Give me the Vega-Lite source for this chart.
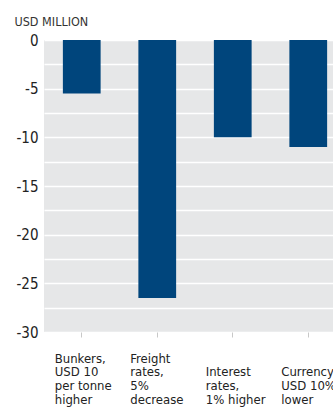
{
  "$schema": "https://vega.github.io/schema/vega-lite/v6.json",
  "autosize": "none",
  "padding": {"left": 44, "top": 40, "right": 0, "bottom": 76},
  "width": 302,
  "height": 292,
  "background": "white",
  "config": {
    "view": {"fill": "#e6e7e8", "stroke": null},
    "font": "Liberation Sans Narrow, DejaVu Sans Condensed, Roboto"
  },
  "data": {
    "values": [
      {"factor": "Bunkers", "value": -5.5},
      {"factor": "Freight", "value": -26.5},
      {"factor": "Interest", "value": -10},
      {"factor": "Currency", "value": -11}
    ]
  },
  "mark": {"type": "bar", "color": "#00457c"},
  "encoding": {
    "x": {
      "field": "factor",
      "type": "nominal",
      "sort": null,
      "scale": {"paddingInner": 0.5, "paddingOuter": 0.25},
      "axis": {
        "title": null,
        "domain": false,
        "grid": false,
        "ticks": true,
        "tickSize": 5,
        "tickColor": "#c8c8c8",
        "labelAngle": 0,
        "labelAlign": "left",
        "labelOffset": -27,
        "labelBaseline": "alphabetic",
        "labelPadding": 25,
        "labelFontSize": 13,
        "labelLineHeight": 13.7,
        "labelColor": "#222222",
        "labelBound": false,
        "labelOverlap": false,
        "labelExpr": "datum.value == 'Bunkers' ? ['Bunkers,', 'USD 10', 'per tonne', 'higher'] : datum.value == 'Freight' ? ['Freight', 'rates,', '5%', 'decrease'] : datum.value == 'Interest' ? ['', 'Interest', 'rates,', '1% higher'] : ['', 'Currency', 'USD 10%', 'lower']"
      }
    },
    "y": {
      "field": "value",
      "type": "quantitative",
      "scale": {"domain": [-30, 0], "nice": false},
      "axis": {
        "title": "USD MILLION",
        "titleAngle": 0,
        "titleAlign": "left",
        "titleBaseline": "alphabetic",
        "titleX": -30,
        "titleY": -15,
        "titleFontSize": 12.5,
        "titleFontWeight": "normal",
        "titleColor": "#333333",
        "values": [0, -2.5, -5, -7.5, -10, -12.5, -15, -17.5, -20, -22.5, -25, -27.5, -30],
        "labelExpr": "datum.value % 5 == 0 ? '' + datum.value : ''",
        "labelFontSize": 15,
        "labelColor": "#222222",
        "labelPadding": 6,
        "ticks": false,
        "domain": false,
        "grid": true,
        "gridColor": "#ffffff",
        "gridWidth": 1.5
      }
    }
  }
}
